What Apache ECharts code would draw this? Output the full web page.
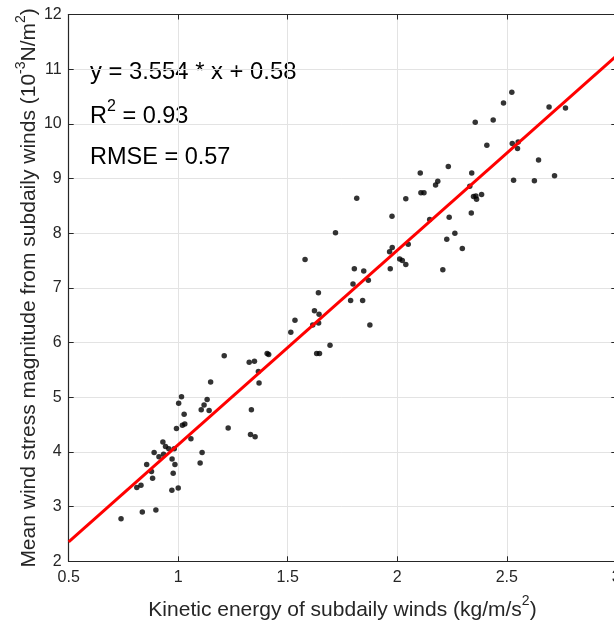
<!DOCTYPE html>
<html>
<head>
<meta charset="utf-8">
<script src="https://cdn.jsdelivr.net/npm/echarts@6/dist/echarts.min.js"></script>
<style>
  html, body { margin: 0; padding: 0; background: #fff; }
  #chart { width: 614px; height: 622px; }
</style>
</head>
<body>
<div id="chart"></div>
<script>
// Kinetic energy of subdaily winds (kg/m/s^2)
const kineticEnergy = [
  1.210, 1.324, 1.348, 1.366, 1.369, 1.148, 1.015, 1.002, 1.132, 1.118,
  1.105, 1.141, 1.027, 1.334, 1.019, 1.030, 0.992, 1.228, 1.058, 1.330,
  1.351, 0.930, 0.942, 0.957, 0.982, 0.890, 0.933, 0.912, 1.109, 0.972,
  0.985, 1.100, 0.856, 0.878, 0.977, 0.883, 0.830, 0.811, 1.000, 0.971,
  0.898, 0.836, 0.739,
  1.815, 1.976, 1.718, 1.579, 1.965, 1.977, 2.023, 2.039, 1.968, 1.804,
  1.847, 1.868, 1.798, 2.208, 1.640, 1.787, 1.842, 1.622, 1.643, 1.533,
  1.614, 1.641, 1.875, 1.514, 1.693, 1.632, 1.645, 1.406, 1.413,
  2.523, 2.485, 2.693, 2.768, 2.356, 2.438, 2.409, 2.525, 2.552, 2.549,
  2.645, 2.531, 2.626, 2.718, 2.105, 2.233, 2.340, 2.175, 2.185, 2.039,
  2.108, 2.122, 2.331, 2.348, 2.359, 2.362, 2.385, 2.237, 2.338, 2.148,
  2.226, 2.263, 2.297, 2.050, 2.011
];

// Mean wind stress magnitude from subdaily winds (10^-3 N/m^2)
const windStress = [
  5.76, 5.64, 5.66, 5.47, 5.26, 5.28, 5.01, 4.89, 4.96, 4.86,
  4.77, 4.76, 4.69, 4.77, 4.49, 4.51, 4.43, 4.44, 4.24, 4.32,
  4.28, 4.18, 4.10, 4.06, 4.06, 3.99, 3.96, 3.91, 3.99, 3.87,
  3.77, 3.80, 3.77, 3.64, 3.61, 3.52, 3.39, 3.35, 3.34, 3.30,
  2.94, 2.90, 2.78,
  8.64, 8.31, 8.01, 7.52, 7.66, 7.74, 7.50, 7.43, 7.35, 7.35,
  7.31, 7.14, 7.07, 7.33, 6.91, 6.77, 6.77, 6.58, 6.52, 6.41,
  6.32, 6.36, 6.32, 6.19, 5.95, 5.80, 5.80, 5.80, 5.78,
  10.58, 10.38, 10.31, 10.29, 10.03, 10.07, 9.61, 9.64, 9.67, 9.55,
  9.34, 8.97, 8.96, 9.05, 9.10, 9.22, 9.10, 8.88, 8.95, 8.63,
  8.74, 8.74, 8.86, 8.67, 8.68, 8.62, 8.71, 8.29, 8.37, 8.25,
  7.89, 8.00, 7.72, 7.80, 7.53
];

// Least-squares fit and its statistics
const slope = 3.554;
const intercept = 0.58;
const rSquared = 0.93;
const rmse = 0.57;

// Axis ranges
const xRange = [0.5, 3];
const yRange = [2, 12];
const xStep = 0.5;
const yStep = 1;

const points = kineticEnergy.map((x, i) => [x, windStress[i]]);
const fitLine = xRange.map(x => [x, slope * x + intercept]);

const FONT = '"Liberation Sans", Arial, Helvetica, sans-serif';
const INK = '#262626';
const GRID = '#e3e3e3';

const chart = echarts.init(document.getElementById('chart'), null, { renderer: 'canvas' });

const boxAxisCommon = {
  axisLine: { show: true, onZero: false, lineStyle: { color: INK, width: 1.2 } },
  axisTick: { show: true, inside: true, length: 5, lineStyle: { color: INK, width: 1 } },
  axisLabel: { show: false },
  splitLine: { show: false }
};

const titleRich = {
  t: { fontSize: 21, fontFamily: FONT, color: INK, lineHeight: 26, verticalAlign: 'bottom' },
  sup: { fontSize: 14, fontFamily: FONT, color: INK, lineHeight: 26, verticalAlign: 'top' }
};

chart.setOption({
  animation: false,
  backgroundColor: '#ffffff',
  grid: {
    left: 68.7, top: 14.5, width: 547.6, height: 546.8,
    containLabel: false,
    outerBoundsMode: 'none'
  },
  xAxis: [
    {
      type: 'value', min: xRange[0], max: xRange[1], interval: xStep,
      position: 'bottom',
      axisLine: { show: true, onZero: false, lineStyle: { color: INK, width: 1.2 } },
      axisTick: { show: true, inside: true, length: 5, lineStyle: { color: INK, width: 1 } },
      axisLabel: { color: INK, fontSize: 16, fontFamily: FONT, margin: 8 },
      splitLine: { show: true, lineStyle: { color: GRID, width: 1 } },
      name: '{t|Kinetic energy of subdaily winds (kg/m/s}{sup|2}{t|)}',
      nameLocation: 'middle',
      nameGap: 33,
      nameMoveOverlap: false,
      nameTextStyle: { color: INK, fontFamily: FONT, rich: titleRich }
    },
    Object.assign({ type: 'value', min: xRange[0], max: xRange[1], interval: xStep, position: 'top' }, boxAxisCommon)
  ],
  yAxis: [
    {
      type: 'value', min: yRange[0], max: yRange[1], interval: yStep,
      position: 'left',
      axisLine: { show: true, onZero: false, lineStyle: { color: INK, width: 1.2 } },
      axisTick: { show: true, inside: true, length: 5, lineStyle: { color: INK, width: 1 } },
      axisLabel: { color: INK, fontSize: 16, fontFamily: FONT, margin: 7 },
      splitLine: { show: true, lineStyle: { color: GRID, width: 1 } },
      name: '{t|Mean wind stress magnitude from subdaily winds (10}{sup|-3}{t|N/m}{sup|2}{t|)}',
      nameLocation: 'middle',
      nameRotate: 90,
      nameGap: 29,
      nameMoveOverlap: false,
      nameTextStyle: { color: INK, fontFamily: FONT, rich: titleRich }
    },
    Object.assign({ type: 'value', min: yRange[0], max: yRange[1], interval: yStep, position: 'right' }, boxAxisCommon)
  ],
  graphic: [
    {
      type: 'text', left: 90, top: 60,
      style: {
        text: 'y = ' + slope.toFixed(3) + ' * x + ' + intercept.toFixed(2),
        font: '23.8px ' + FONT, fill: '#000'
      }
    },
    {
      type: 'text', left: 90, top: 99,
      style: {
        text: '{t|R}{sup|2}{t| = ' + rSquared.toFixed(2) + '}',
        fill: '#000',
        rich: {
          t: { fontSize: 23.5, fontFamily: FONT, fill: '#000', lineHeight: 30, verticalAlign: 'bottom' },
          sup: { fontSize: 16, fontFamily: FONT, fill: '#000', lineHeight: 30, verticalAlign: 'top' }
        }
      }
    },
    {
      type: 'text', left: 90, top: 146,
      style: {
        text: 'RMSE = ' + rmse.toFixed(2),
        font: '23.5px ' + FONT, fill: '#000'
      }
    }
  ],
  series: [
    {
      type: 'scatter',
      xAxisIndex: 0, yAxisIndex: 0,
      data: points,
      symbol: 'circle',
      symbolSize: 5.5,
      itemStyle: { color: '#000000' },
      z: 2
    },
    {
      type: 'line',
      xAxisIndex: 0, yAxisIndex: 0,
      data: fitLine,
      showSymbol: false,
      symbol: 'none',
      lineStyle: { color: '#ff0000', width: 3 },
      clip: true,
      z: 3
    }
  ]
});
</script>
</body>
</html>
